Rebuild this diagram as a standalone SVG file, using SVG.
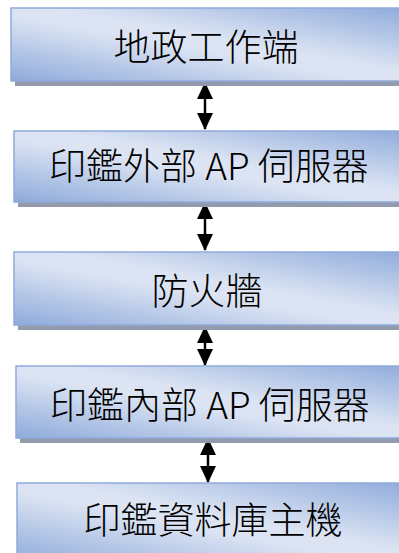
<svg xmlns="http://www.w3.org/2000/svg" width="399" height="553" viewBox="0 0 399 553">
  <defs>
    <linearGradient id="g" x1="0" y1="1" x2="1" y2="0">
      <stop offset="0" stop-color="#8eaadb"/>
      <stop offset="0.45" stop-color="#dce4f3"/>
      <stop offset="0.55" stop-color="#dce4f3"/>
      <stop offset="1" stop-color="#8eaadb"/>
    </linearGradient>
    <marker id="ah" viewBox="0 0 17 16" refX="16" refY="8" markerWidth="17" markerHeight="16" markerUnits="userSpaceOnUse" orient="auto-start-reverse">
      <path d="M0,0 L17,8 L0,16 Z" fill="#000"/>
    </marker>
  </defs>
  <style>
    .sh { fill: #929aab; }
    .bx { fill: url(#g); stroke: #8eaadb; stroke-width: 1.5; }
    .t { font-family: "Noto Sans CJK TC", "Noto Sans", sans-serif; font-size: 37px; font-weight: 300; fill: #000; text-anchor: middle; }
    .c { stroke: #000; stroke-width: 2.5; fill: none; marker-start: url(#ah); marker-end: url(#ah); }
  </style>
  <g id="connectors">
    <line class="c" x1="205" y1="83" x2="205" y2="129"/>
    <line class="c" x1="205" y1="203" x2="205" y2="250"/>
    <line class="c" x1="205" y1="327" x2="205" y2="365"/>
    <line class="c" x1="208" y1="439" x2="208" y2="482"/>
  </g>
  <g id="n1">
    <rect class="sh" x="15" y="13" width="400" height="73"/>
    <rect class="bx" x="11" y="8" width="400" height="73"/>
    <text class="t" x="206" y="61">地政工作端</text>
  </g>
  <g id="n2">
    <rect class="sh" x="18" y="136" width="400" height="71"/>
    <rect class="bx" x="14" y="131" width="400" height="71"/>
    <text class="t" x="209" y="180">印鑑外部 AP 伺服器</text>
  </g>
  <g id="n3">
    <rect class="sh" x="18" y="257" width="400" height="73"/>
    <rect class="bx" x="14" y="252" width="400" height="73"/>
    <text class="t" x="207" y="305">防火牆</text>
  </g>
  <g id="n4">
    <rect class="sh" x="20" y="371" width="400" height="72"/>
    <rect class="bx" x="16" y="366" width="400" height="72"/>
    <text class="t" x="210" y="419">印鑑內部 AP 伺服器</text>
  </g>
  <g id="n5">
    <rect class="sh" x="21" y="488" width="400" height="80"/>
    <rect class="bx" x="17" y="483" width="400" height="80"/>
    <text class="t" x="213" y="534">印鑑資料庫主機</text>
  </g>
</svg>
